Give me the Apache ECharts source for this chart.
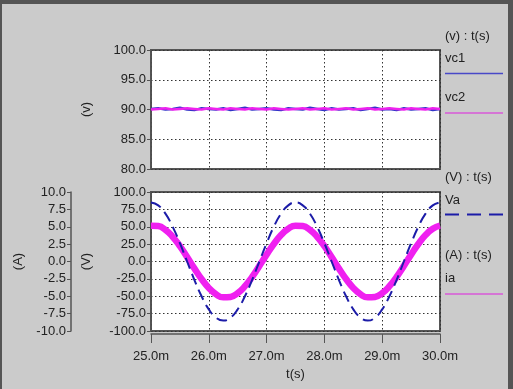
<!DOCTYPE html>
<html><head><meta charset="utf-8">
<script src="https://cdn.jsdelivr.net/npm/echarts@6/dist/echarts.min.js"></script>
<style>html,body{margin:0;padding:0;background:#cbcbcb;}#c{width:513px;height:389px;}</style>
</head><body><div id="c"></div>
<script>
// time in ms
var t = [25.0,25.125,25.25,25.375,25.5,25.625,25.75,25.875,26.0,26.125,26.25,26.375,26.5,26.625,26.75,26.875,27.0,27.125,27.25,27.375,27.5,27.625,27.75,27.875,28.0,28.125,28.25,28.375,28.5,28.625,28.75,28.875,29.0,29.125,29.25,29.375,29.5,29.625,29.75,29.875,30.0];
var vc1 = [90.1,90.2,90.0,90.1,90.3,90.0,89.9,90.2,90.1,90.0,90.2,89.9,90.1,90.3,90.0,90.1,90.2,90.0,89.9,90.2,90.1,90.0,90.3,90.1,89.9,90.2,90.0,90.1,90.2,89.9,90.1,90.3,90.0,90.1,89.9,90.2,90.0,90.1,90.2,89.9,90.1];
var vc2 = [90.0,90.1,90.2,90.0,90.1,90.2,90.1,90.0,90.2,90.1,90.0,90.2,90.1,90.0,90.2,90.1,90.0,90.2,90.1,90.0,90.1,90.2,90.0,90.1,90.2,90.0,90.1,90.2,90.0,90.1,90.2,90.0,90.1,90.2,90.1,90.0,90.2,90.1,90.0,90.2,90.1];
var va = [85,80.8,68.8,50.0,26.3,0,-26.3,-50.0,-68.8,-80.8,-85,-80.8,-68.8,-50.0,-26.3,0,26.3,50.0,68.8,80.8,85,80.8,68.8,50.0,26.3,0,-26.3,-50.0,-68.8,-80.8,-85,-80.8,-68.8,-50.0,-26.3,0,26.3,50.0,68.8,80.8,85];
var ia = [5.16,5.10,4.55,3.55,2.20,0.63,-0.99,-2.52,-3.80,-4.71,-5.16,-5.10,-4.55,-3.55,-2.20,-0.63,0.99,2.52,3.80,4.71,5.16,5.10,4.55,3.55,2.20,0.63,-0.99,-2.52,-3.80,-4.71,-5.16,-5.10,-4.55,-3.55,-2.20,-0.63,0.99,2.52,3.80,4.71,5.16];
var xTicks = {min:25, max:30, step:1};

function pairs(a){ return t.map(function(x,i){ return [x,a[i]]; }); }
var FONT = 'Liberation Sans, Arial, sans-serif';
var TXT = '#222';
var FS = 13;
var split = {show:true, lineStyle:{color:'#333', type:[1.5,2.5], width:1}};
function yAx(gi, mn, mx, iv, name, off, gap){
  return {type:'value', gridIndex:gi, min:mn, max:mx, interval:iv, position:'left', offset:off,
    name:name, nameLocation:'middle', nameRotate:90, nameGap:gap,
    nameTextStyle:{color:TXT, fontFamily:FONT, fontSize:FS},
    axisLine:{show:true, lineStyle:{color:'#555', width:1.5}},
    axisTick:{show:true, inside:false, length:4, lineStyle:{color:'#555'}},
    axisLabel:{color:TXT, fontFamily:FONT, fontSize:FS, margin:5, formatter:function(v){return v.toFixed(1);}},
    splitLine: off===0 ? split : {show:false}};
}
var chart = echarts.init(document.getElementById('c'), null, {renderer:'canvas'});
var opt = {
  animation:false,
  backgroundColor:'#cbcbcb',
  grid:[
    {left:151, width:289, top:50, height:119, show:true, backgroundColor:'#fff', borderColor:'#555', borderWidth:2},
    {left:151, width:289, top:192, height:139, show:true, backgroundColor:'#fff', borderColor:'#555', borderWidth:2}
  ],
  xAxis:[
    {type:'value', gridIndex:0, min:xTicks.min, max:xTicks.max, interval:xTicks.step,
     axisLine:{show:false}, axisTick:{show:false}, axisLabel:{show:false}, splitLine:split},
    {type:'value', gridIndex:1, min:xTicks.min, max:xTicks.max, interval:xTicks.step, offset:3,
     name:'t(s)', nameLocation:'middle', nameGap:34, nameTextStyle:{color:TXT, fontFamily:FONT, fontSize:FS},
     axisLine:{show:true, onZero:false, lineStyle:{color:'#555', width:1.5}},
     axisTick:{show:true, length:9, lineStyle:{color:'#555'}},
     axisLabel:{color:TXT, fontFamily:FONT, fontSize:FS, margin:16, formatter:function(v){return v.toFixed(1)+'m';}},
     splitLine:split}
  ],
  yAxis:[
    yAx(0, 80, 100, 5, '(v)', 0, 58),
    yAx(1, -100, 100, 25, '(V)', 0, 58),
    yAx(1, -10, 10, 2.5, '(A)', 80, 46)
  ],
  series:[
    {name:'vc1', type:'line', xAxisIndex:0, yAxisIndex:0, data:pairs(vc1), showSymbol:false, lineStyle:{color:'#3434c8', width:2.5}},
    {name:'vc2', type:'line', xAxisIndex:0, yAxisIndex:0, data:pairs(vc2), showSymbol:false, lineStyle:{color:'#ee22ee', width:2.5}},
    {name:'ia', type:'line', xAxisIndex:1, yAxisIndex:2, data:pairs(ia), smooth:true, showSymbol:false, lineStyle:{color:'#f020f0', width:6.5}},
    {name:'Va', type:'line', xAxisIndex:1, yAxisIndex:1, data:pairs(va), smooth:true, showSymbol:false, lineStyle:{color:'#1c1ca8', width:2, type:[11,6]}}
  ],
  graphic:[
    {type:'rect', shape:{x:0,y:0,width:513,height:4}, style:{fill:'#555'}, silent:true},
    {type:'rect', shape:{x:0,y:0,width:2,height:389}, style:{fill:'#555'}, silent:true},
    {type:'rect', shape:{x:508,y:0,width:5,height:389}, style:{fill:'#555'}, silent:true},
    {type:'text', x:445, y:36, style:{text:'(v) : t(s)', font:FS+'px '+FONT, fill:TXT, verticalAlign:'middle'}},
    {type:'text', x:445, y:58, style:{text:'vc1', font:FS+'px '+FONT, fill:TXT, verticalAlign:'middle'}},
    {type:'line', shape:{x1:445,y1:73.5,x2:503,y2:73.5}, style:{stroke:'#4848c8', lineWidth:1.5}},
    {type:'text', x:445, y:97, style:{text:'vc2', font:FS+'px '+FONT, fill:TXT, verticalAlign:'middle'}},
    {type:'line', shape:{x1:445,y1:113,x2:503,y2:113}, style:{stroke:'#d858d8', lineWidth:1.5}},
    {type:'text', x:445, y:177, style:{text:'(V) : t(s)', font:FS+'px '+FONT, fill:TXT, verticalAlign:'middle'}},
    {type:'text', x:445, y:200, style:{text:'Va', font:FS+'px '+FONT, fill:TXT, verticalAlign:'middle'}},
    {type:'line', shape:{x1:445,y1:214.5,x2:503,y2:214.5}, style:{stroke:'#1c1ca8', lineWidth:2, lineDash:[14,8]}},
    {type:'text', x:445, y:255, style:{text:'(A) : t(s)', font:FS+'px '+FONT, fill:TXT, verticalAlign:'middle'}},
    {type:'text', x:445, y:278, style:{text:'ia', font:FS+'px '+FONT, fill:TXT, verticalAlign:'middle'}},
    {type:'line', shape:{x1:445,y1:294,x2:503,y2:294}, style:{stroke:'#d858d8', lineWidth:1.5}}
  ]
};
chart.setOption(opt);
</script></body></html>
